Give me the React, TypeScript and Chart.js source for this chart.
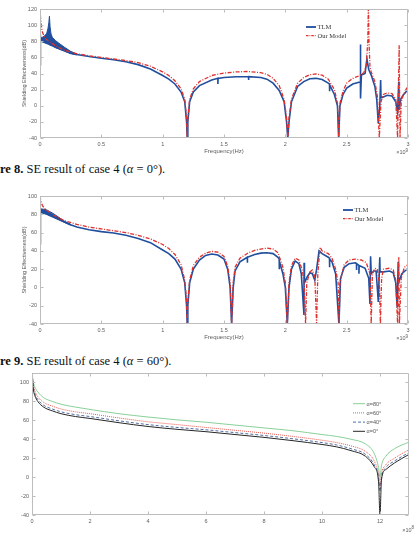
import React, { useEffect, useRef } from "react";
import { Chart, registerables } from "chart.js";

Chart.register(...registerables);

// ---------------- Figure 8 : case 4, alpha = 0° ----------------
const freqTicks = [0, 0.5, 1, 1.5, 2, 2.5, 3];
const fig8YTicks = [-40, -20, 0, 20, 40, 60, 80, 100, 120];

const fig8TlmFreq = [0, 0.002, 0.005, 0.05, 0.1, 0.15, 0.2, 0.25, 0.3, 0.4, 0.5, 0.6, 0.7, 0.8, 0.9, 1.0, 1.05, 1.1, 1.15, 1.18, 1.195, 1.2, 1.205, 1.22, 1.25, 1.3, 1.4, 1.45, 1.45, 1.452, 1.5, 1.6, 1.7, 1.7, 1.702, 1.8, 1.85, 1.9, 1.95, 1.99, 2.01, 2.02, 2.03, 2.05, 2.1, 2.15, 2.2, 2.25, 2.3, 2.35, 2.36, 2.36, 2.362, 2.4, 2.425, 2.435, 2.445, 2.47, 2.5, 2.55, 2.6, 2.612, 2.612, 2.614, 2.62, 2.65, 2.665, 2.68, 2.7, 2.73, 2.745, 2.758, 2.77, 2.777, 2.78, 2.8, 2.83, 2.87, 2.9, 2.915, 2.925, 2.927, 2.94, 2.96, 3.0];
const fig8TlmSE = [88, 50, 81, 78, 75, 71.5, 68.5, 65.5, 63.5, 61, 59, 57, 54.5, 51, 45.5, 37.5, 33, 27, 17, 5, -20, -40, -20, 5, 17, 25, 32, 34, 27, 34, 35, 36, 36, 32, 36, 35, 33, 28, 19, 5, -20, -40, -20, 5, 24, 30, 33.5, 34, 32.5, 28, 27, 18, 26, 14, 0, -40, 0, 14, 22, 27, 29, 30, 76, 9, 38, 40, 58, 45, 38, 24, 8, -22, 0, 32, 10, 11, 13, 12, 5, -8, 30, -5, 8, 13, 20];

const fig8BandFreq = [0.005, 0.02, 0.04, 0.055, 0.065, 0.072, 0.077, 0.082, 0.09, 0.1, 0.125, 0.15, 0.2, 0.25, 0.3];
const fig8BandUpper = [84, 85, 87, 90, 96, 103, 111, 98, 89, 85, 81, 78, 72.5, 67.5, 64];
const fig8BandLower = [80, 79, 78, 77, 76.5, 76, 75.5, 75, 74.5, 74, 72, 70.5, 67.5, 64.5, 63];

const fig8ModelFreq = [0, 0.004, 0.01, 0.02, 0.04, 0.07, 0.1, 0.15, 0.2, 0.3, 0.4, 0.5, 0.6, 0.7, 0.8, 0.9, 1.0, 1.05, 1.1, 1.15, 1.18, 1.195, 1.2, 1.205, 1.22, 1.25, 1.3, 1.4, 1.5, 1.6, 1.7, 1.8, 1.85, 1.9, 1.95, 1.99, 2.01, 2.02, 2.03, 2.05, 2.1, 2.15, 2.2, 2.25, 2.3, 2.35, 2.4, 2.425, 2.435, 2.445, 2.47, 2.5, 2.55, 2.6, 2.64, 2.66, 2.672, 2.677, 2.682, 2.69, 2.7, 2.73, 2.75, 2.766, 2.78, 2.8, 2.83, 2.87, 2.9, 2.915, 2.928, 2.935, 2.945, 2.96, 3.0];
const fig8ModelSE = [122, 110, 100, 91, 84, 80, 77, 72.5, 69, 64.5, 62, 60, 58, 56, 53.5, 49, 42, 37.5, 31, 21, 8, -15, -40, -15, 8, 21, 30, 37.5, 40.5, 42, 42.5, 41, 39, 34, 25, 8, -15, -40, -15, 8, 28, 35, 38.5, 39.5, 38, 33, 20, 3, -40, 3, 18, 28, 34, 37, 41, 50, 80, 125, 80, 48, 42, 30, 12, -40, 5, 14, 16, 15, 8, -40, 75, -40, 5, 13, 25];

// ---------------- Figure 9 : case 4, alpha = 60° ----------------
const fig9YTicks = [-40, -20, 0, 20, 40, 60, 80, 100];

const fig9TlmFreq = [0, 0.002, 0.005, 0.05, 0.1, 0.15, 0.2, 0.25, 0.3, 0.4, 0.5, 0.6, 0.7, 0.8, 0.9, 1.0, 1.05, 1.1, 1.15, 1.18, 1.195, 1.2, 1.205, 1.22, 1.25, 1.3, 1.35, 1.4, 1.45, 1.5, 1.53, 1.55, 1.562, 1.575, 1.59, 1.63, 1.69, 1.69, 1.692, 1.75, 1.8, 1.85, 1.9, 1.94, 1.95, 1.95, 1.952, 1.98, 2.0, 2.016, 2.03, 2.05, 2.08, 2.11, 2.13, 2.152, 2.153, 2.156, 2.18, 2.2, 2.22, 2.24, 2.255, 2.275, 2.3, 2.35, 2.36, 2.36, 2.362, 2.38, 2.41, 2.437, 2.45, 2.48, 2.52, 2.57, 2.58, 2.58, 2.582, 2.6, 2.6, 2.602, 2.65, 2.68, 2.69, 2.695, 2.7, 2.72, 2.74, 2.758, 2.77, 2.772, 2.8, 2.85, 2.88, 2.9, 2.912, 2.92, 2.922, 2.95, 3.0];
const fig9TlmSE = [86, 47, 83, 81, 78, 75, 71.5, 68.5, 66, 63, 61, 59.5, 57, 53.5, 49, 41, 37, 31, 20, 5, -20, -40, -20, 5, 20, 30, 35, 36.5, 35.5, 31, 20, 0, -40, 0, 18, 28, 33, 27, 33, 36, 37.5, 38, 37, 33, 31, 20, 29, 15, 0, -40, 0, 20, 29, 26, 15, -30, 27, 5, 12, 16, 15, 8, 20, 40, 37, 33, 32, 22, 31, 28, 15, -40, 10, 22, 26, 27, 26, 19, 26, 24, 15, 24, 21, 10, -18, 34, 15, 18, 18, -16, 33, 17, 17, 18, 16, 5, -22, 28, 5, 15, 21];

const fig9BandFreq = [0.005, 0.05, 0.1, 0.15, 0.2, 0.25];
const fig9BandUpper = [86, 85, 81.5, 77, 72.5, 69];
const fig9BandLower = [82, 80, 77, 74, 71, 68];

const fig9ModelFreq = [0, 0.005, 0.01, 0.02, 0.04, 0.07, 0.1, 0.15, 0.2, 0.3, 0.4, 0.5, 0.6, 0.7, 0.8, 0.9, 1.0, 1.05, 1.1, 1.15, 1.18, 1.195, 1.2, 1.205, 1.22, 1.25, 1.3, 1.35, 1.4, 1.45, 1.5, 1.53, 1.55, 1.562, 1.575, 1.59, 1.63, 1.7, 1.75, 1.8, 1.85, 1.9, 1.94, 1.98, 2.0, 2.016, 2.03, 2.05, 2.08, 2.11, 2.14, 2.155, 2.165, 2.175, 2.2, 2.22, 2.24, 2.255, 2.265, 2.283, 2.3, 2.35, 2.38, 2.41, 2.43, 2.438, 2.445, 2.48, 2.52, 2.57, 2.62, 2.66, 2.69, 2.7, 2.71, 2.73, 2.75, 2.766, 2.775, 2.785, 2.8, 2.85, 2.88, 2.9, 2.915, 2.925, 2.93, 2.945, 2.97, 3.0];
const fig9ModelSE = [100, 96, 93, 89.5, 86, 83, 80, 76, 73, 69, 66, 64, 62, 60, 57, 53, 47, 42.5, 36, 25, 8, -15, -40, -15, 8, 24, 33, 37.5, 39.5, 38.5, 34, 23, 5, -40, 5, 22, 32, 38, 40.5, 42, 43, 42, 38, 22, 5, -40, 5, 24, 32, 30, 18, 0, -40, 5, 17, 19, 12, -40, 15, 44, 40, 37, 32, 20, 5, -40, 5, 25, 30, 31, 30, 27, 15, -40, 15, 21, 20, 5, -40, 10, 20, 21, 19, 8, -40, 33, -40, 10, 22, 25];

// ---------------- Third figure : SE vs frequency for several alpha ----------------
const alphaXTicks = [0, 2, 4, 6, 8, 10, 12];
const alphaYTicks = [-40, -20, 0, 20, 40, 60, 80, 100];
const alphaFreq = [0, 0.05, 0.1, 0.2, 0.4, 0.7, 1, 1.5, 2, 3, 4, 5, 6, 7, 8, 9, 10, 10.5, 11, 11.5, 11.8, 11.95, 12, 12.05, 12.2, 12.5, 13];
const alpha80SE = [110, 100, 95, 90, 84, 80, 77, 74, 71.5, 67, 63.5, 60.5, 58, 55, 52, 49, 45, 43, 40, 35, 25, 10, 0, 12, 22, 30, 37];
const alpha60SE = [110, 97, 91, 85, 79, 75, 72, 69, 67, 62.5, 58.5, 55.5, 52.5, 49.5, 46.5, 43, 39, 36.5, 33, 27, 17, 3, -10, 3, 13, 20, 29];
const alpha40SE = [110, 94, 88, 82, 76, 72, 69, 66, 64, 59.5, 55.5, 52.5, 50, 47, 44, 40.5, 36.5, 34, 30, 24, 13, 0, -15, 0, 10, 17, 26];
const alpha0SE = [110, 92, 86, 80, 74, 70, 67, 64, 62, 57.5, 53.5, 50.5, 48, 45, 42, 38.5, 34.5, 32, 28, 22, 11, -5, -40, -3, 8, 15, 24];
const alphaLabels = ["α=80°", "α=60°", "α=40°", "α=0°"];

// ---------------- styling ----------------
const SANS = "'Liberation Sans', Arial, sans-serif";
const SERIF = "'Liberation Serif', 'Times New Roman', serif";
const TICK_COLOR = "#5c5c5c";
const FRAME_COLOR = "#bdbdbd";
const BLUE = "#1f4f9e";
const RED = "#e0302c";
const DASHDOT = [4, 1.5, 1, 1.5];

const pts = (xs: number[], ys: number[]) => xs.map((x, i) => ({ x, y: ys[i] }));

const lineDs = (xs: number[], ys: number[], color: string, width: number, dash: number[], order: number, extra: any = {}) => ({
  data: pts(xs, ys),
  borderColor: color,
  backgroundColor: color,
  borderWidth: width,
  borderDash: dash,
  pointRadius: 0,
  tension: 0,
  fill: false,
  order,
  ...extra,
});

const axis = (min: number, max: number, ticks: number[], size: { w?: number; h?: number }, pad: number) => ({
  type: "linear",
  min,
  max,
  afterBuildTicks: (s: any) => {
    s.ticks = ticks.map((v) => ({ value: v }));
  },
  afterFit: (s: any) => {
    if (size.w != null) s.width = size.w;
    if (size.h != null) s.height = size.h;
  },
  grid: { display: false, drawTicks: false },
  border: { display: false },
  ticks: {
    font: { family: SANS, size: 5.5 },
    color: TICK_COLOR,
    padding: pad,
    autoSkip: false,
    maxRotation: 0,
    callback: (v: any) => String(v),
  },
});

const framePlugin = {
  id: "matlabFrame",
  afterDatasetsDraw(chart: any) {
    const { ctx, chartArea: a, scales } = chart;
    const tl = 3;
    const L = Math.round(a.left) + 0.5;
    const R = Math.round(a.right) - 0.5;
    const T = Math.round(a.top) + 0.5;
    const B = Math.round(a.bottom) - 0.5;
    ctx.save();
    ctx.strokeStyle = FRAME_COLOR;
    ctx.lineWidth = 1;
    ctx.setLineDash([]);
    ctx.beginPath();
    ctx.rect(L, T, R - L, B - T);
    for (const t of scales.x.ticks) {
      const p = Math.round(scales.x.getPixelForValue(t.value)) + 0.5;
      ctx.moveTo(p, B);
      ctx.lineTo(p, B - tl);
      ctx.moveTo(p, T);
      ctx.lineTo(p, T + tl);
    }
    for (const t of scales.y.ticks) {
      const p = Math.round(scales.y.getPixelForValue(t.value)) + 0.5;
      ctx.moveTo(L, p);
      ctx.lineTo(L + tl, p);
      ctx.moveTo(R, p);
      ctx.lineTo(R - tl, p);
    }
    ctx.stroke();
    ctx.restore();
  },
};

const extrasPlugin = {
  id: "extras",
  afterDraw(chart: any, _args: any, o: any) {
    const { ctx, chartArea: a } = chart;
    ctx.save();
    ctx.fillStyle = TICK_COLOR;
    ctx.textBaseline = "middle";
    if (o.xTitle) {
      ctx.font = `6px ${SANS}`;
      ctx.textAlign = "center";
      ctx.fillText(o.xTitle, (a.left + a.right) / 2, a.bottom + o.xTitleOffset);
    }
    if (o.yTitle) {
      ctx.save();
      ctx.font = `5.5px ${SANS}`;
      ctx.translate(a.left - o.yTitleOffset, (a.top + a.bottom) / 2);
      ctx.rotate(-Math.PI / 2);
      ctx.textAlign = "center";
      ctx.fillText(o.yTitle, 0, 0);
      ctx.restore();
    }
    if (o.exp) {
      ctx.font = `4.5px ${SANS}`;
      ctx.textAlign = "right";
      const supW = ctx.measureText(o.exp.sup).width;
      ctx.fillText(o.exp.sup, o.exp.x, o.exp.y - 2);
      ctx.font = `5.5px ${SANS}`;
      ctx.fillText(o.exp.base, o.exp.x - supW, o.exp.y);
    }
    if (o.legend) {
      const lg = o.legend;
      lg.items.forEach((it: any, i: number) => {
        const y = lg.y + i * lg.gap;
        ctx.save();
        ctx.strokeStyle = it.color;
        ctx.lineWidth = it.width;
        ctx.setLineDash(it.dash);
        ctx.beginPath();
        ctx.moveTo(lg.x, y);
        ctx.lineTo(lg.x + lg.lineLen, y);
        ctx.stroke();
        ctx.restore();
        ctx.font = lg.font;
        ctx.fillStyle = lg.color;
        ctx.textAlign = "left";
        ctx.fillText(it.label, lg.x + lg.lineLen + 1.5, y + 0.3);
      });
    }
    ctx.restore();
  },
};

const baseOptions = (padding: any, scales: any, extras: any) => ({
  responsive: false,
  animation: false,
  events: [],
  layout: { padding },
  scales,
  plugins: { legend: { display: false }, tooltip: { enabled: false }, extras },
});

function makeSEConfig(
  tlmX: number[], tlmY: number[], bandX: number[], bandUp: number[], bandLo: number[],
  modelX: number[], modelY: number[], yMax: number, yTicks: number[], padTop: number, xH: number, legendY: number
) {
  return {
    type: "line",
    data: {
      datasets: [
        lineDs(modelX, modelY, RED, 1.3, DASHDOT, 0),
        lineDs(tlmX, tlmY, BLUE, 1.6, [], 1),
        lineDs(bandX, bandUp, BLUE, 1, [], 2, { fill: "+1", backgroundColor: BLUE }),
        lineDs(bandX, bandLo, BLUE, 1, [], 3),
      ],
    },
    options: baseOptions(
      { top: padTop, right: 8, left: 0, bottom: 0 },
      {
        x: axis(0, 3, freqTicks, { h: xH }, 3),
        y: axis(-40, yMax, yTicks, { w: 40 }, 3),
      },
      {
        xTitle: "Frequency(Hz)",
        xTitleOffset: 13.5,
        yTitle: "Shielding Effectiveness(dB)",
        yTitleOffset: 16,
        exp: { base: "×10", sup: "9", x: 408, y: 0 },
        legend: {
          x: 0, y: legendY, gap: 8.7, lineLen: 10,
          font: `6.5px ${SERIF}`, color: "#333",
          items: [
            { label: "TLM", color: BLUE, width: 1.8, dash: [] },
            { label: "Our Model", color: RED, width: 1.2, dash: [2.5, 1, 0.8, 1] },
          ],
        },
      }
    ),
    plugins: [framePlugin, extrasPlugin],
  };
}

function fig8Config() {
  const c: any = makeSEConfig(fig8TlmFreq, fig8TlmSE, fig8BandFreq, fig8BandUpper, fig8BandLower, fig8ModelFreq, fig8ModelSE, 120, fig8YTicks, 9, 22, 27);
  c.options.plugins.extras.exp.y = 152.5;
  c.options.plugins.extras.legend.x = 306;
  return c;
}

function fig9Config() {
  const c: any = makeSEConfig(fig9TlmFreq, fig9TlmSE, fig9BandFreq, fig9BandUpper, fig9BandLower, fig9ModelFreq, fig9ModelSE, 100, fig9YTicks, 16, 21, 30);
  c.options.plugins.extras.exp.y = 158.5;
  c.options.plugins.extras.legend.x = 343;
  return c;
}

function alphaConfig() {
  return {
    type: "line",
    data: {
      datasets: [
        lineDs(alphaFreq, alpha80SE, "#7ccb8c", 0.9, [], 3, { cubicInterpolationMode: "monotone" }),
        lineDs(alphaFreq, alpha60SE, "#e8463c", 0.9, [1, 1], 2, { cubicInterpolationMode: "monotone" }),
        lineDs(alphaFreq, alpha40SE, "#3c5e9c", 0.9, [3, 2], 1, { cubicInterpolationMode: "monotone" }),
        lineDs(alphaFreq, alpha0SE, "#262626", 1, [], 0, { cubicInterpolationMode: "monotone" }),
      ],
    },
    options: baseOptions(
      { top: 7, right: 7, left: 0, bottom: 0 },
      {
        x: axis(0, 13, alphaXTicks, { h: 19 }, 3),
        y: axis(-40, 110, alphaYTicks, { w: 32 }, 3),
      },
      {
        exp: { base: "×10", sup: "8", x: 414, y: 164 },
        legend: {
          x: 353, y: 37.7, gap: 9.2, lineLen: 12,
          font: `5.5px ${SANS}`, color: "#555",
          items: [
            { label: alphaLabels[0], color: "#7ccb8c", width: 0.9, dash: [] },
            { label: alphaLabels[1], color: "#e8463c", width: 0.9, dash: [1, 1] },
            { label: alphaLabels[2], color: "#3c5e9c", width: 0.9, dash: [3, 2] },
            { label: alphaLabels[3], color: "#262626", width: 1, dash: [] },
          ],
        },
      }
    ),
    plugins: [framePlugin, extrasPlugin],
  };
}

function ChartCanvas({ top, height, build }: { top: number; height: number; build: () => any }) {
  const ref = useRef<HTMLCanvasElement>(null);
  useEffect(() => {
    const chart = new Chart(ref.current as HTMLCanvasElement, build());
    return () => chart.destroy();
  }, []);
  return (
    <canvas
      ref={ref}
      width={416}
      height={height}
      style={{ position: "absolute", left: 0, top, width: 416, height, display: "block" }}
    />
  );
}

const captionStyle: React.CSSProperties = {
  position: "absolute",
  left: 0,
  fontFamily: SERIF,
  fontSize: 12.5,
  lineHeight: "13px",
  whiteSpace: "nowrap",
  color: "#111",
};

export default function App() {
  return (
    <div style={{ position: "absolute", left: 0, top: 0, width: 416, height: 534, background: "#fff", overflow: "hidden" }}>
      <ChartCanvas top={0} height={160} build={fig8Config} />
      <div style={{ ...captionStyle, top: 162.5 }}>
        <b>re 8.</b> SE result of case 4 (<i>α</i> = 0°).
      </div>
      <ChartCanvas top={180} height={165} build={fig9Config} />
      <div style={{ ...captionStyle, top: 354.5 }}>
        <b>re 9.</b> SE result of case 4 (<i>α</i> = 60°).
      </div>
      <ChartCanvas top={366} height={168} build={alphaConfig} />
    </div>
  );
}
